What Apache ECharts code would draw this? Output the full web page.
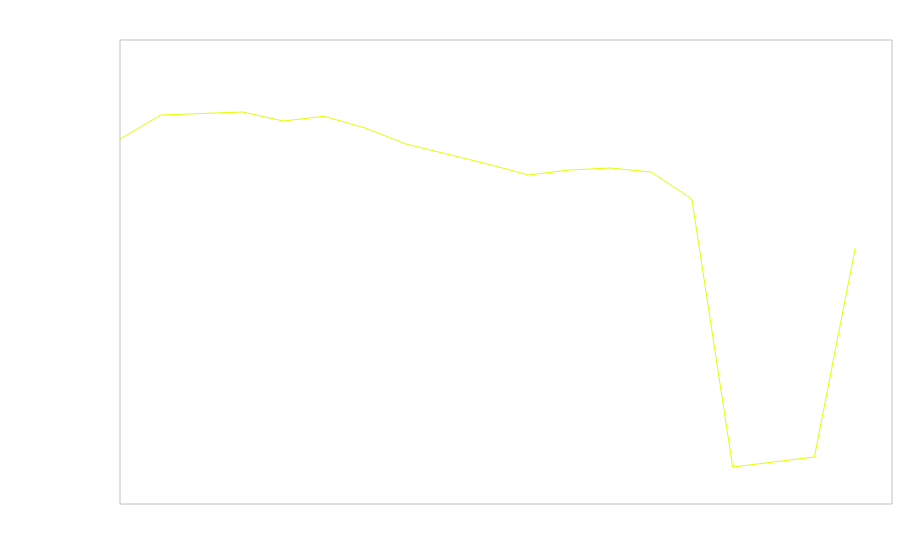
<!DOCTYPE html>
<html>
<head>
<meta charset="utf-8">
<script src="https://cdn.jsdelivr.net/npm/echarts@6/dist/echarts.min.js"></script>
<style>html,body{margin:0;padding:0;background:#fff}#c{width:900px;height:560px}</style>
</head>
<body>
<div id="c"></div>
<script>
var xIndex = [0,1,2,3,4,5,6,7,8,9,10,11,12,13,14,15,16,17,18];
var values = [365,389,390.5,392,383,387.7,376,360,350,340,329,334,336,332,305,37,42,47,256];

var chart = echarts.init(document.getElementById('c'), null, {renderer: 'canvas'});
chart.setOption({
  animation: false,
  grid: {left: 120, right: 8, top: 40, bottom: 56, show: true, borderColor: '#c0c0c0', borderWidth: 1, backgroundColor: 'transparent'},
  xAxis: {type: 'value', min: 0, max: 18.9, axisLine: {show: false}, axisTick: {show: false}, axisLabel: {show: false}, splitLine: {show: false}},
  yAxis: {type: 'value', min: 0, max: 464, axisLine: {show: false}, axisTick: {show: false}, axisLabel: {show: false}, splitLine: {show: false}},
  series: [{
    type: 'line',
    data: xIndex.map(function(x, i){ return [x, values[i]]; }),
    showSymbol: false,
    symbol: 'none',
    lineStyle: {color: '#e1ff00', width: 1}
  }]
});
</script>
</body>
</html>
